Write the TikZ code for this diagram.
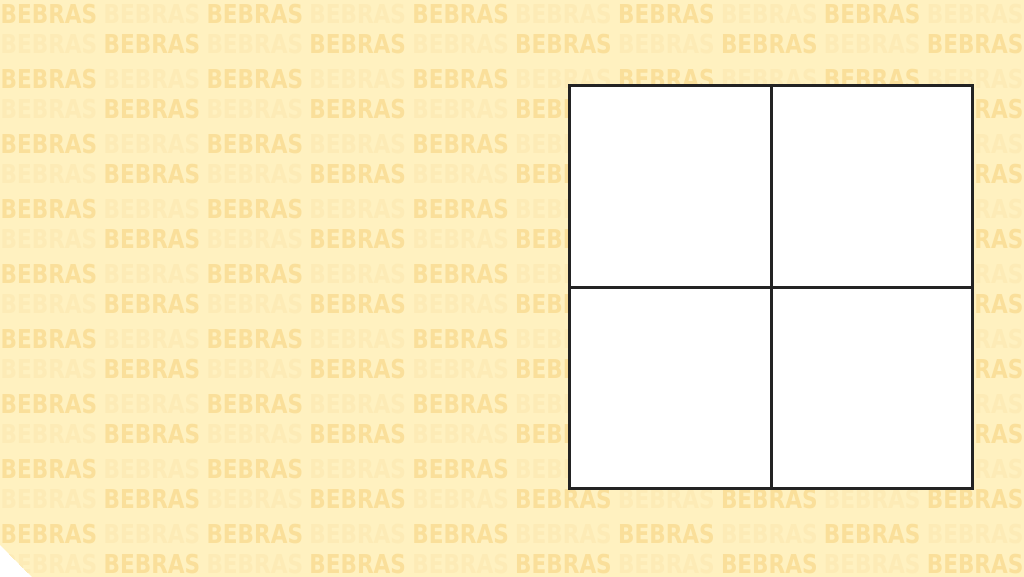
\documentclass[tikz,border=0pt]{standalone}
\usepackage{fontspec}
\setmainfont{DejaVu Sans}
\usepackage{graphicx}
\definecolor{paper}{HTML}{FFF1C0}
\definecolor{markdark}{HTML}{FADF9A}
\definecolor{marklight}{HTML}{FDEBB6}
\definecolor{gridline}{HTML}{232323}
\newcommand{\bebword}{\scalebox{0.83}[1]{\bfseries BEBRAS}}
\begin{document}
\begin{tikzpicture}[
    thick,
    cell/.style={rectangle,draw=gridline,fill=white,line width=0.85pt,minimum size=2.015cm,inner sep=0pt},
    wmark/.style={inner sep=0pt,font=\fontsize{7.4}{8}\selectfont},
    dark wmark/.style={wmark,text=markdark},
    light wmark/.style={wmark,text=marklight}
  ]
  \useasboundingbox (0,0) rectangle (10.24,5.77);
  \fill[paper] (0,0.32) -- (0,5.77) -- (10.24,5.77) -- (10.24,0) -- (0.32,0) -- cycle;

  % watermark
  \begin{scope}
    \clip (0,0.32) -- (0,5.77) -- (10.24,5.77) -- (10.24,0) -- (0.32,0) -- cycle;
    \foreach \r in {0,...,8} {
      \foreach \c in {0,...,9} {
        \pgfmathsetmacro{\xx}{0.49+1.029*\c}
        \pgfmathsetmacro{\ya}{5.63-0.65*\r}
        \pgfmathsetmacro{\yb}{5.33-0.65*\r}
        \ifodd\c
          \node[light wmark] (wa\r-\c) at (\xx,\ya) {\bebword};
          \node[dark wmark] (wb\r-\c) at (\xx,\yb) {\bebword};
        \else
          \node[dark wmark] (wa\r-\c) at (\xx,\ya) {\bebword};
          \node[light wmark] (wb\r-\c) at (\xx,\yb) {\bebword};
        \fi
      }
    }
  \end{scope}

  % grid
  \node[cell] (tl) at (6.705,3.905) {};
  \node[cell] (tr) at (8.72,3.905) {};
  \node[cell] (bl) at (6.705,1.89) {};
  \node[cell] (br) at (8.72,1.89) {};
\end{tikzpicture}
\end{document}
